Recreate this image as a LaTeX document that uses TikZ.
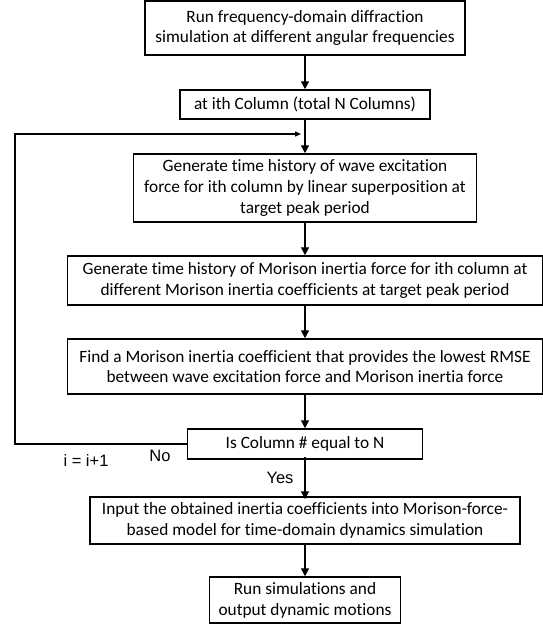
\documentclass[tikz,border=0pt]{standalone}
\usepackage{fontspec}
\setmainfont{Carlito}[RawFeature={-liga;-dlig;-clig}]
\newfontfamily\arialf{Liberation Sans}
\usetikzlibrary{arrows.meta}
\tikzset{
  box/.style={draw, line width=1.5pt, inner sep=0pt, align=center, font=\fontsize{17.3}{20.8}\selectfont},
  arr/.style={line width=1.4pt, -{Triangle[length=8pt,width=8pt]}},
  arrsmall/.style={line width=1.4pt, -{Triangle[length=6pt,width=5pt]}},
  lbl/.style={font=\arialf\fontsize{16.5}{19}\selectfont, inner sep=0pt}
}
\begin{document}
\begin{tikzpicture}[x=1pt,y=-1pt]
\useasboundingbox (0,0) rectangle (543,626);
\node[box, minimum width=320pt, minimum height=54pt] (b1) at (305,28) {Run frequency-domain diffraction\\simulation at different angular frequencies};
\node[box, minimum width=250pt, minimum height=29pt] (b2) at (305,104.5) {at ith Column (total N Columns)};
\node[box, minimum width=343pt, minimum height=68pt] (b3) at (305,188) {Generate time history of wave excitation\\force for ith column by linear superposition at\\target peak period};
\node[box, minimum width=475pt, minimum height=49pt] (b4) at (305,280.5) {Generate time history of Morison inertia force for ith column at\\different Morison inertia coefficients at target peak period};
\node[box, minimum width=475pt, minimum height=55pt] (b5) at (305,366.5) {Find a Morison inertia coefficient that provides the lowest RMSE\\between wave excitation force and Morison inertia force};
\node[box, minimum width=235pt, minimum height=30pt] (b6) at (305,444) {Is Column \# equal to N};
\node[box, minimum width=430pt, minimum height=47pt] (b7) at (305,520.5) {Input the obtained inertia coefficients into Morison-force-\\based model for time-domain dynamics simulation};
\node[box, minimum width=191pt, minimum height=46pt] (b8) at (305,600) {Run simulations and\\output dynamic motions};
\coordinate (j) at (303,134);
\coordinate (c) at (15,444);
\draw[arr] (b1) -- (b2);
\draw[arr] (b2) -- (b3);
\draw[arr] (b3) -- (b4);
\draw[arr] (b4) -- (b5);
\draw[arr] (b5) -- (b6);
\draw[arr] ([yshift=3pt]b6.south) -- ([yshift=-3pt]b7.north);
\draw[arr] (b7) -- (b8);
\draw[arrsmall] (b6.west) -- (c) |- ([xshift=-2pt]j);
\node[lbl] (no) at (160,456) {No};
\node[lbl] (inc) at (86,461) {i = i+1};
\node[lbl] (yes) at (280,478) {Yes};
\end{tikzpicture}
\end{document}
